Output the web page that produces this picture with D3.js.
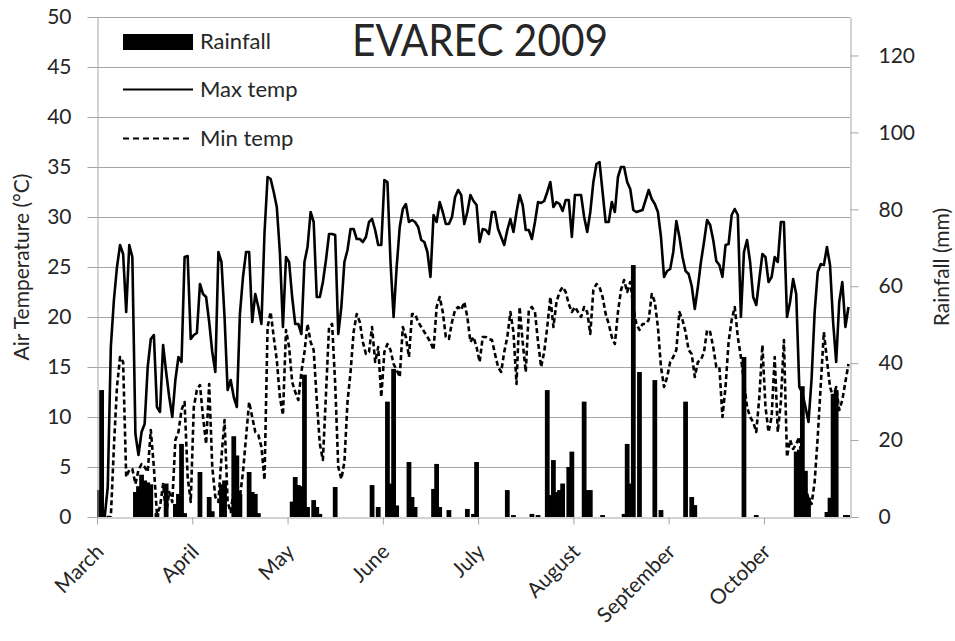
<!DOCTYPE html>
<html>
<head>
<meta charset="utf-8">
<script src="https://cdn.jsdelivr.net/npm/d3@7"></script>
<style>
  body { margin: 0; background: #ffffff; }
  svg text { font-family: Lato, "Open Sans", sans-serif; fill: #262626; }
</style>
</head>
<body>
<svg id="chart" width="955" height="641"></svg>
<script>
var monthLabels = ["March", "April", "May", "June", "July", "August", "September", "October"];
var tempTicks = [0, 5, 10, 15, 20, 25, 30, 35, 40, 45, 50];
var rainTicks = [0, 20, 40, 60, 80, 100, 120];

// daily values from 1 March 2009
var maxTemp = [
  0, 0, 0, 3, 17, 21.7, 25, 27.2, 26.3, 20.5,
  27.2, 26, 8.3, 6.2, 8.5, 9.3, 15, 17.8, 18.2, 11,
  10.5, 17.2, 14.5, 12, 10, 13.7, 16, 15.5, 26, 26.1,
  17.8, 18.2, 18.4, 23.3, 22.3, 22, 19.5, 16.5, 14.5, 26.5,
  25.5, 20, 12.7, 13.7, 12, 11, 20.3, 24, 26.5, 26.5,
  19.5, 22.3, 21, 19.3, 28.4, 34, 33.8, 32.5, 31, 26.5,
  19, 26, 25.5, 22, 19.3, 19.3, 18.3, 25.5, 27, 30.5,
  29.5, 22, 22, 23.5, 25.7, 28.3, 28.3, 28.2, 18.3, 21,
  25.5, 26.7, 28.8, 28.8, 27.8, 27.8, 27.5, 28, 29.5, 29.8,
  28.7, 27.2, 27.2, 33.7, 33.5, 25.5, 20, 25, 29, 30.8,
  31.3, 29.5, 29.7, 29.5, 29, 27.7, 27.5, 26.5, 24, 30.2,
  29.5, 31.5, 30.5, 29.3, 29.3, 30, 32, 32.7, 32.2, 29.3,
  30.5, 32.2, 31.6, 31.2, 27.5, 28.8, 28.7, 28.3, 30.5, 30.5,
  28.8, 28, 27.2, 28.7, 29.8, 28.5, 30.5, 32.2, 31.2, 28.7,
  28.7, 27.8, 29.5, 31.5, 31.4, 31.6, 32.5, 33.5, 31, 31.5,
  31.3, 30.6, 31.7, 31.7, 28, 32.2, 32.2, 32.2, 30, 28.5,
  30.5, 33.5, 35.3, 35.5, 32.5, 29.5, 29.5, 31.5, 30.5, 34,
  35, 35, 33.5, 32.8, 30.7, 30.5, 30.6, 30.7, 31.7, 32.7,
  31.8, 31.3, 30.5, 28, 24, 24.6, 24.8, 26.5, 29.6, 28,
  26, 24.6, 24.3, 23.1, 20.8, 23, 25.5, 27.5, 29.7, 29.2,
  27.7, 25.6, 25.2, 24, 27.2, 27.3, 30.2, 30.8, 30.2, 20,
  26.5, 27.7, 25.5, 22, 21.2, 23.8, 26.3, 26, 23.5, 24,
  26, 25.5, 29.5, 29.5, 20, 21.5, 23.8, 22.3, 13, 12.4,
  11, 9.5, 13.8, 20.5, 24.5, 25.3, 25.2, 27, 25.2, 19.5,
  15.5, 21.5, 23.5, 19, 21
];

var minTemp = [
  0, 0, 0, 0, 0, 7, 13, 16, 15.5, 4,
  4.7, 4.8, 3.3, 4.7, 5.3, 5, 4.5, 8.7, 5, 0.3,
  1, 3.3, 0.3, 2.5, 1.5, 7.7, 8.5, 10.7, 11.5, 4,
  1.5, 11, 12.7, 13.2, 10, 7.3, 13.3, 5, 2, 1.5,
  6, 9.7, 1.5, 0.5, 2.7, 3.5, 2, 4.5, 8, 11.5,
  10, 8.5, 8.2, 7, 3.7, 19, 20.5, 18, 15.7, 12,
  10.2, 18.7, 17, 13.5, 12.5, 11.7, 14.5, 16.5, 19.3, 17.5,
  16.7, 11.7, 7.3, 5.7, 12.3, 19, 19.3, 13.3, 5, 3.8,
  5.5, 11.5, 14.5, 18.5, 20.3, 19.5, 17.5, 16.3, 16.5, 19,
  15.5, 17, 12, 16.5, 17.3, 16.7, 15.3, 14.7, 14, 19,
  18, 16, 20.3, 20.3, 19.5, 19, 18.5, 18, 17.5, 16.7,
  21, 22, 20.5, 18, 17.8, 19.5, 20.7, 21, 20.7, 21.5,
  20, 17.5, 18, 17, 15.5, 18, 18, 17.8, 17.7, 16.3,
  15, 14.5, 16.5, 18, 20.5, 18.5, 13.3, 21, 17.5, 14.5,
  20.7, 21, 20.5, 17.5, 15, 16.5, 19, 22, 19, 21.5,
  22.5, 23, 22.5, 21.3, 20.5, 21, 20.5, 20, 21, 20.5,
  18.3, 22.7, 23.3, 23, 22, 20.3, 19.3, 18, 17.3, 20.5,
  22.7, 23.7, 22.5, 23.5, 21, 19.3, 18.7, 19.3, 19.3, 19.7,
  22.3, 21.5, 19, 15, 13, 14, 15.5, 16, 16.7, 20.5,
  19.7, 18.5, 16.7, 16.3, 14, 15.5, 15.7, 16.5, 18.7, 18.5,
  17, 15, 15, 10, 13, 17.5, 19.7, 21, 18, 16,
  13.5, 11, 10, 9.5, 8.5, 12, 17.2, 11, 8.5, 10,
  16, 8.5, 11.5, 17.7, 6, 7.7, 6.8, 7.3, 8, 5,
  3, 1.8, 1.3, 3.5, 8, 13.3, 18.5, 15.7, 13, 12,
  13, 10.7, 11.7, 13.5, 15.3
];

var rainfall = [
  7, 33, 0, 0, 0, 0, 0, 0, 0, 0,
  0, 0, 6.5, 8, 11, 9.5, 9, 8.5, 0, 1,
  0, 0, 8.7, 0, 0, 3.4, 6, 19, 1, 0,
  0, 0, 0, 11.7, 0, 0, 5.2, 1.5, 0, 0,
  8.5, 9.5, 0, 0, 21, 16, 6, 0, 0, 11.7,
  6.5, 6, 1, 0, 0, 0, 0, 0, 0, 0,
  0, 0, 0, 4, 10.4, 8.3, 8, 37, 2.6, 0,
  4.4, 2.6, 0.8, 0, 0, 0, 0, 7.8, 0, 0,
  0, 0, 0, 0, 0, 0, 0, 0, 0, 8.3,
  0, 2.6, 0, 0, 30, 8.7, 38.5, 3, 0, 0,
  0, 14.3, 5.2, 2.6, 0, 0, 0, 0, 0, 7.3,
  13.8, 2.6, 0, 0, 1.8, 0, 0, 0, 0, 0,
  2.1, 0, 0.8, 14.3, 0, 0, 0, 0, 0, 0,
  0, 0, 0, 7, 0, 0.5, 0, 0, 0, 0,
  0, 0.8, 0, 0.5, 0, 0, 33, 5.7, 14.8, 6.5,
  7, 8.7, 0, 13, 17, 0, 0, 0, 30, 7,
  7, 0, 0, 0, 0.5, 0, 0, 0, 0, 0,
  0, 0.8, 19, 8.7, 65.5, 0, 37.7, 0, 0, 0,
  0, 35.6, 0, 1.8, 0, 0, 0, 0, 0, 0,
  0, 30, 0, 5.2, 3.1, 0, 0, 0, 0, 0,
  0, 0, 0, 0, 0, 0, 0, 0, 0, 0,
  41.6, 0, 0, 0, 0.5, 0, 0, 0, 0, 0,
  0, 0, 0, 0, 0, 0, 0, 17, 17.5, 34,
  12, 5, 0, 0, 0, 0, 0, 1.3, 5, 32,
  33, 0, 0, 0.5, 0.5
];

(function() {
  var chart = d3.select("#chart");
  var gridColor = "#a6a6a6";

  var x0 = 97, x1 = 850;
  var y0 = 517, y1 = 17;

  var startDate = new Date(Date.UTC(2009, 2, 1));
  var days = d3.utcDay.range(startDate, d3.utcDay.offset(startDate, maxTemp.length));
  var endDate = d3.utcDay.offset(startDate, days.length);
  // Excel placed a label every 31 days
  var tickDates = monthLabels.map(function(m, i) { return d3.utcDay.offset(startDate, i * 31); });

  var x = d3.scaleUtc().domain([startDate, endDate]).range([x0, x1]);
  var yTemp = d3.scaleLinear().domain([0, 50]).range([y0, y1]);
  var yRain = d3.scaleLinear().domain([0, 130]).range([y0, y1]);
  var slot = x(days[1]) - x(days[0]);
  var barWidth = slot * 1.55;
  var mid = function(d) { return x(d) + slot / 2; };

  var series = days.map(function(d, i) {
    return { date: d, max: maxTemp[i], min: minTemp[i], rain: rainfall[i] };
  });

  chart.append("defs").append("clipPath").attr("id", "plot-clip")
    .append("rect")
    .attr("x", x0).attr("y", y1)
    .attr("width", x1 - x0).attr("height", y0 - y1);

  // horizontal grid
  chart.append("g")
    .attr("stroke", gridColor)
    .attr("stroke-width", 1)
    .selectAll("line").data(tempTicks.slice(1)).enter().append("line")
    .attr("x1", x0).attr("x2", x1)
    .attr("y1", function(d) { return Math.round(yTemp(d)) + 0.5; })
    .attr("y2", function(d) { return Math.round(yTemp(d)) + 0.5; });

  var plot = chart.append("g").attr("clip-path", "url(#plot-clip)");

  plot.append("g")
    .attr("fill", "#000000")
    .selectAll("rect").data(series.filter(function(d) { return d.rain > 0; })).enter().append("rect")
    .attr("x", function(d) { return mid(d.date) - barWidth / 2; })
    .attr("width", barWidth)
    .attr("y", function(d) { return yRain(d.rain); })
    .attr("height", function(d) { return y0 - yRain(d.rain); });

  var lineMin = d3.line().x(function(d) { return mid(d.date); }).y(function(d) { return yTemp(d.min); });
  var lineMax = d3.line().x(function(d) { return mid(d.date); }).y(function(d) { return yTemp(d.max); });

  plot.append("path")
    .datum(series)
    .attr("fill", "none")
    .attr("stroke", "#000000")
    .attr("stroke-width", 2.6)
    .attr("stroke-dasharray", "5,3")
    .attr("stroke-linejoin", "round")
    .attr("d", lineMin);

  plot.append("path")
    .datum(series)
    .attr("fill", "none")
    .attr("stroke", "#000000")
    .attr("stroke-width", 2.6)
    .attr("stroke-linejoin", "round")
    .attr("d", lineMax);

  // axes
  var leftAxis = chart.append("g")
    .attr("transform", "translate(" + (x0 + 0.5) + ",0)")
    .call(d3.axisLeft(yTemp).tickValues(tempTicks).tickSize(10).tickSizeOuter(0).tickPadding(16));

  var rightAxis = chart.append("g")
    .attr("transform", "translate(" + (x1 + 0.5) + ",0)")
    .call(d3.axisRight(yRain).tickValues(rainTicks).tickSize(8).tickSizeOuter(0).tickPadding(20));

  var bottomAxis = chart.append("g")
    .attr("transform", "translate(0," + (y0 + 0.5) + ")")
    .call(d3.axisBottom(x).tickValues(tickDates).tickSize(7).tickSizeOuter(0).tickFormat(""));

  [leftAxis, rightAxis, bottomAxis].forEach(function(a) {
    a.select(".domain").attr("stroke", gridColor);
    a.selectAll(".tick line").attr("stroke", gridColor);
    a.selectAll(".tick text")
      .attr("font-size", 21)
      .attr("fill", "#262626")
      .style("font-family", "Lato, sans-serif");
  });

  chart.append("g")
    .attr("font-size", 21)
    .attr("text-anchor", "end")
    .selectAll("text").data(tickDates).enter().append("text")
    .attr("transform", function(d) { return "translate(" + (x(d) + 8) + ",553) rotate(-45)"; })
    .text(function(d, i) { return monthLabels[i]; });

  chart.append("text")
    .attr("transform", "translate(29," + ((y0 + y1) / 2) + ") rotate(-90)")
    .attr("text-anchor", "middle")
    .attr("font-size", 21)
    .text("Air Temperature (°C)");

  chart.append("text")
    .attr("transform", "translate(949," + ((y0 + y1) / 2) + ") rotate(-90)")
    .attr("text-anchor", "middle")
    .attr("font-size", 21)
    .text("Rainfall (mm)");

  chart.append("text")
    .attr("x", 352).attr("y", 56)
    .attr("font-size", 44)
    .attr("textLength", 256)
    .attr("lengthAdjust", "spacingAndGlyphs")
    .attr("fill", "#000000")
    .text("EVAREC 2009");

  // legend
  var legend = chart.append("g").attr("font-size", 22);
  legend.append("rect").attr("x", 123).attr("y", 34).attr("width", 70).attr("height", 16).attr("fill", "#000000");
  legend.append("text").attr("x", 200).attr("y", 49).text("Rainfall");
  legend.append("line").attr("x1", 123).attr("x2", 193).attr("y1", 89.5).attr("y2", 89.5)
    .attr("stroke", "#000000").attr("stroke-width", 1.8);
  legend.append("text").attr("x", 200).attr("y", 97).text("Max temp");
  legend.append("line").attr("x1", 123).attr("x2", 193).attr("y1", 138.5).attr("y2", 138.5)
    .attr("stroke", "#000000").attr("stroke-width", 1.8).attr("stroke-dasharray", "6,4");
  legend.append("text").attr("x", 200).attr("y", 146).text("Min temp");
})();
</script>
</body>
</html>
